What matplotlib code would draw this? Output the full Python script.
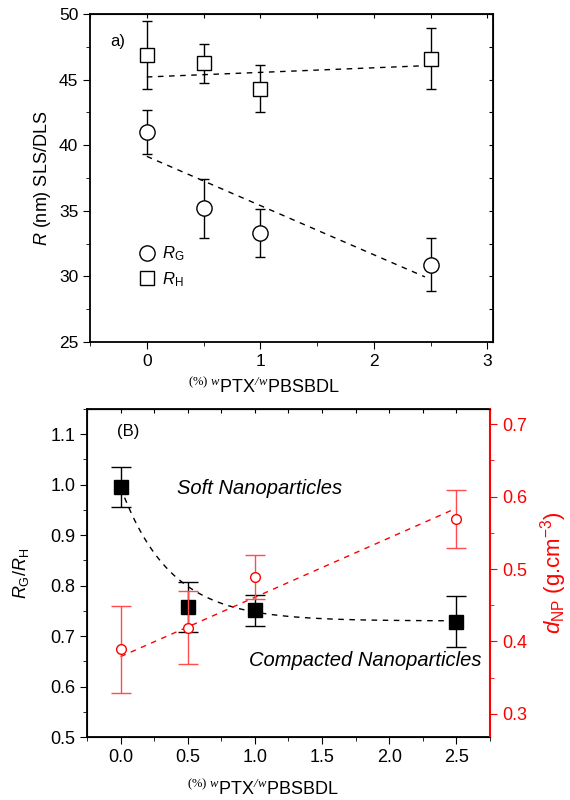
import numpy as np
import matplotlib.pyplot as plt
from matplotlib.ticker import MultipleLocator

plt.rcParams['font.family'] = ['Liberation Sans', 'DejaVu Sans']
plt.rcParams['font.size'] = 10
plt.rcParams['mathtext.fontset'] = 'custom'
plt.rcParams['mathtext.rm'] = 'Liberation Sans'
plt.rcParams['mathtext.it'] = 'Liberation Sans:italic'
plt.rcParams['mathtext.sf'] = 'Liberation Sans'
plt.rcParams['mathtext.bf'] = 'Liberation Sans:bold'
# serif pieces of the x label
plt.rcParams['mathtext.tt'] = 'Liberation Serif'
plt.rcParams['mathtext.cal'] = 'Liberation Serif:italic'

# panel a) radius data
x_a = [0, 0.5, 1, 2.5]
rg = [41.0, 35.2, 33.3, 30.9]
rg_err = [1.67, 2.25, 1.8, 2.0]
rh = [46.9, 46.24, 44.3, 46.6]
rh_err = [2.6, 1.5, 1.8, 2.35]
# linear fits (intercept, slope)
rg_fit = (39.15, -3.75)
rh_fit = (45.2, 0.35)

# panel B) ratio and density data
x_b = [0, 0.5, 1.0, 2.5]
ratio = [0.995, 0.758, 0.751, 0.7285]
ratio_err = [0.04, 0.05, 0.031, 0.05]
dnp = [0.389, 0.419, 0.489, 0.569]
dnp_err = [0.06, 0.05, 0.03, 0.04]
# fits: exponential decay (y0, A, t) and linear (intercept, slope)
ratio_fit = (0.73, 0.265, 0.37)
dnp_fit = (0.379, 0.082)

xlab = r'${}^{\mathtt{(\%)}\ \mathcal{w}}\mathsf{PTX}^{\mathcal{/w}}\mathsf{PBSBDL}$'

fig = plt.figure(figsize=(5.7, 8.0), dpi=100)

# ---- top panel ----
ax1 = fig.add_axes([0.158, 0.5725, 0.707, 0.41])
eb1 = ax1.errorbar(x_a, rg, yerr=rg_err, fmt='o', mfc='white', mec='black', ms=11,
                   ecolor='black', elinewidth=1, capsize=3.5, color='black', zorder=3)
eb2 = ax1.errorbar(x_a, rh, yerr=rh_err, fmt='s', mfc='white', mec='black', ms=10,
                   ecolor='black', elinewidth=1, capsize=3.5, color='black', zorder=3)
xf = np.linspace(0, 2.45, 50)
ax1.plot(xf, rg_fit[0] + rg_fit[1] * xf, 'k--', lw=1, dashes=(4, 4))
ax1.plot(xf, rh_fit[0] + rh_fit[1] * xf, 'k--', lw=1, dashes=(4, 4))
ax1.set_xlim(-0.5, 3.05)
ax1.set_ylim(25, 50)
ax1.xaxis.set_major_locator(MultipleLocator(1))
ax1.xaxis.set_minor_locator(MultipleLocator(0.5))
ax1.yaxis.set_major_locator(MultipleLocator(5))
ax1.yaxis.set_minor_locator(MultipleLocator(2.5))
ax1.tick_params(which='both', direction='out', top=False, right=False)
ax1.tick_params(which='major', length=5, labelsize=12.5)
ax1.tick_params(which='minor', length=3)
for s in ax1.spines.values():
    s.set_linewidth(1.3)
sec = ax1.secondary_xaxis('top')
sec.set_xticks(np.arange(-0.5, 3.01, 0.5))
sec.tick_params(direction='in', length=3, labeltop=False)
secy = ax1.secondary_yaxis('right')
secy.set_yticks(np.arange(25, 50.1, 2.5))
secy.tick_params(direction='in', length=3, labelright=False)
ax1.set_ylabel(r'$R$ (nm) SLS/DLS', fontsize=13)
ax1.set_xlabel(xlab, fontsize=13)
ax1.xaxis.set_label_coords(0.43, -0.105)
ax1.text(0.05, 0.915, 'a)', transform=ax1.transAxes, fontsize=12, va='center')
ax1.legend(handles=[eb1[0], eb2[0]],
           labels=[r'$R_{\mathregular{G}}$', r'$R_{\mathregular{H}}$'],
           loc='center left', bbox_to_anchor=(0.08, 0.23), frameon=False,
           fontsize=12, handletextpad=0.3, labelspacing=0.4, handlelength=1.2)

# ---- bottom panel ----
ax2 = fig.add_axes([0.1526, 0.07875, 0.707, 0.41])
ax2.errorbar(x_b, ratio, yerr=ratio_err, fmt='s', mfc='black', mec='black', ms=10,
             ecolor='black', elinewidth=1, capsize=7, color='black', zorder=3)
xe = np.linspace(0.03, 2.5, 100)
ax2.plot(xe, ratio_fit[0] + ratio_fit[1] * np.exp(-xe / ratio_fit[2]), 'k--', lw=1, dashes=(4, 4))
ax2.set_xlim(-0.25, 2.75)
ax2.set_ylim(0.5, 1.15)
ax2.xaxis.set_major_locator(MultipleLocator(0.5))
ax2.xaxis.set_minor_locator(MultipleLocator(0.25))
ax2.yaxis.set_minor_locator(MultipleLocator(0.05))
ax2.tick_params(which='both', direction='out', top=False, right=False)
ax2.tick_params(which='major', length=5, labelsize=13)
ax2.tick_params(which='minor', length=3)
ax2.set_yticks(np.arange(0.5, 1.11, 0.1))
ax2.set_yticklabels(['%.1f' % v for v in np.arange(0.5, 1.11, 0.1)])
for s in ax2.spines.values():
    s.set_linewidth(1.3)
sec2 = ax2.secondary_xaxis('top')
sec2.set_xticks(np.arange(-0.25, 2.76, 0.25))
sec2.tick_params(direction='in', length=3, labeltop=False)
ax2.set_ylabel(r'$R_{\mathregular{G}}/R_{\mathregular{H}}$', fontsize=13, labelpad=14)
ax2.set_xlabel(xlab, fontsize=13)
ax2.xaxis.set_label_coords(0.437, -0.125)
ax2.text(0.075, 0.93, '(B)', transform=ax2.transAxes, fontsize=12, va='center')
ax2.text(0.42, 0.993, 'Soft Nanoparticles', fontsize=14.5, style='italic', va='center')
ax2.text(1.82, 0.651, 'Compacted Nanoparticles', fontsize=14.5, style='italic', va='center', ha='center')

ax3 = ax2.twinx()
ax3.errorbar(x_b, dnp, yerr=dnp_err, fmt='o', mfc='white', mec='red', ms=7,
             ecolor=(1, 0.3, 0.3), elinewidth=1, capsize=7, color='red', zorder=3)
xl = np.linspace(0, 2.5, 50)
ax3.plot(xl, dnp_fit[0] + dnp_fit[1] * xl, '--', color='red', lw=1, dashes=(4, 4))
ax3.set_ylim(0.268, 0.721)
ax3.yaxis.set_major_locator(MultipleLocator(0.1))
ax3.yaxis.set_minor_locator(MultipleLocator(0.05))
ax3.tick_params(which='both', direction='out', colors='red')
ax3.tick_params(which='major', length=5, labelsize=13)
ax3.tick_params(which='minor', length=3)
ax3.spines['right'].set_color('red')
ax3.spines['right'].set_linewidth(1.5)
ax3.set_ylabel(r'$d_{\mathregular{NP}}$ (g.cm$^{\mathregular{-3}}$)', color='red', fontsize=16, labelpad=8)

fig.savefig('out.png', dpi=100)
